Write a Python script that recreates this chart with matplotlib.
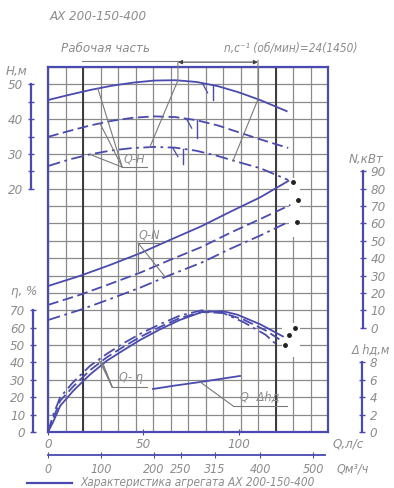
import numpy as np
import matplotlib
matplotlib.use('Agg')
import matplotlib.pyplot as plt
from matplotlib.patches import Rectangle
from matplotlib.lines import Line2D

plt.rcParams['font.family'] = ['DejaVu Sans']
plt.rcParams['font.style'] = 'oblique'
plt.rcParams['font.stretch'] = 'condensed'

BLUE = '#4a4ab0'
GREY = '#8c8c8c'
GRID = '#8a8a8a'

# Q-H, m (Q in m3/h)
q_h1 = [0, 40, 80, 120, 160, 200, 240, 280, 320, 360, 400, 450]
h1 = [45.5, 47.0, 48.4, 49.6, 50.5, 51.1, 51.2, 50.7, 49.5, 47.7, 45.5, 42.3]
q_h2 = [0, 40, 80, 120, 160, 200, 240, 280, 320, 360, 400, 453]
h2 = [34.9, 36.6, 38.2, 39.5, 40.4, 40.8, 40.6, 39.7, 38.2, 36.2, 34.2, 31.7]
q_h3 = [0, 40, 80, 120, 160, 200, 240, 280, 320, 360, 400, 453]
h3 = [26.5, 28.4, 29.9, 31.0, 31.7, 32.0, 31.8, 30.9, 29.4, 27.6, 25.9, 22.5]

# Q-N, kW
q_n1 = [0, 60, 117, 175, 230, 290, 343, 400, 453]
n1 = [24.0, 29.8, 36.1, 43.0, 50.5, 58.5, 66.6, 75.0, 84.4]
q_n2 = [0, 60, 117, 175, 230, 290, 343, 400, 457]
n2 = [13.1, 18.9, 25.2, 31.8, 39.0, 46.5, 54.5, 62.5, 70.6]
q_n3 = [0, 60, 117, 175, 230, 290, 343, 400, 453]
n3 = [4.4, 10.2, 16.5, 23.2, 30.3, 37.5, 45.3, 53.0, 60.8]
n_end_q = [462, 472, 470]
n_end = [83.8, 73.5, 60.8]

# Q-eta, %
q_e1 = [0, 10, 23, 47, 79, 111, 142, 174, 211, 249, 290, 330, 357, 400, 443]
e1 = [0, 6, 15, 23.5, 33, 41, 47, 53, 59, 64.5, 69, 69.5, 67.5, 62, 55]
q_e2 = [0, 10, 23, 47, 79, 111, 142, 174, 211, 249, 290, 330, 370, 410, 438]
e2 = [0, 8, 18, 26, 35.5, 43, 49, 54.7, 60.4, 65.6, 69, 68.5, 64.5, 58.5, 53]
q_e3 = [0, 10, 23, 47, 79, 111, 142, 174, 211, 249, 290, 330, 370, 410, 432]
e3 = [0, 10, 20, 28.5, 38, 45, 51, 56.5, 62, 67, 70, 68.5, 63, 56, 50]
e_end_q = [466, 455, 447]
e_end = [59.8, 55.8, 50.0]

# Q-dh, m
q_d = [198, 240, 287, 330, 362]
dh = [4.95, 5.35, 5.75, 6.15, 6.45]

q_grid_step = 33
q_work = [66, 429]
q_ls_ticks = [0, 50, 100]
q_m3_ticks = [0, 100, 200, 250, 315, 400, 500]

W, HP = 394, 488
fig = plt.figure(figsize=(W / 100, HP / 100), dpi=100)
rect = [48 / W, 56 / HP, 280 / W, 365 / HP]
FS = 9.5


def fx(x, y):
    return x / W, 1 - y / HP


ax = fig.add_axes(rect)
ax.set_xlim(0, 528)
ax.set_ylim(0, 21)
ax.set_xticks(np.arange(0, 529, q_grid_step))
ax.set_yticks(np.arange(0, 22))
ax.tick_params(length=0, labelbottom=False, labelleft=False)
ax.grid(True, color=GRID, lw=0.9)
for s in ax.spines.values():
    s.set_color(BLUE)
    s.set_linewidth(1.6)
for q in q_work:
    ax.axvline(q, color='#3a3a3a', lw=1.4, zorder=2)
# white gaps around curve-end dots
ax.add_patch(Rectangle((455, 11.2), 20, 3.4, fc='white', ec='none', zorder=2.5))
ax.add_patch(Rectangle((441, 4.3), 34, 2.0, fc='white', ec='none', zorder=2.5))

# Q in l/s under the grid
sec = ax.secondary_xaxis('bottom', functions=(lambda q: q / 3.6, lambda v: v * 3.6))
sec.set_xticks(q_ls_ticks)
sec.spines['bottom'].set_visible(False)
sec.tick_params(direction='inout', length=4, color=BLUE, labelcolor=GREY, labelsize=FS, pad=2)

# Q in m3/h
sec2 = ax.secondary_xaxis(-0.063)
sec2.set_xticks(q_m3_ticks)
sec2.spines['bottom'].set_color(BLUE)
sec2.spines['bottom'].set_linewidth(1.3)
sec2.spines['bottom'].set_bounds(0, 523)
sec2.tick_params(direction='inout', length=4, color=BLUE, labelcolor=GREY, labelsize=9, pad=3.5)


def overlay(lo, hi, name):
    a = fig.add_axes(rect, label=name)
    a.set_xlim(0, 528)
    a.set_ylim(lo, hi)
    a.patch.set_visible(False)
    for s in a.spines.values():
        s.set_visible(False)
    a.set_xticks([])
    a.set_yticks([])
    return a


def scale(a, side, pos, lo, hi, major, minor=None):
    sp = a.spines[side]
    sp.set_visible(True)
    sp.set_position(('axes', pos))
    sp.set_bounds(lo, hi)
    sp.set_color(BLUE)
    sp.set_linewidth(1.6)
    a.yaxis.set_ticks_position(side)
    a.set_yticks(major)
    if minor:
        a.set_yticks(minor, minor=True)
    a.tick_params(axis='y', which='both', direction='inout', length=5, width=1,
                  color=BLUE, labelcolor=GREY, labelsize=FS, pad=3)


axH = overlay(-50, 55, 'H')
axN = overlay(-60, 150, 'N')
axE = overlay(0, 210, 'E')
axD = overlay(0, 42, 'D')

scale(axH, 'left', -17 / 280, 20, 50, [20, 30, 40, 50], [25, 35, 45])
scale(axE, 'left', -15 / 280, 0, 70, list(range(0, 71, 10)))
scale(axN, 'right', 315 / 280, 0, 90, list(range(0, 91, 10)))
scale(axD, 'right', 314 / 280, 0, 8, [0, 2, 4, 6, 8])

LW = 1.3
DASH = (0, (6, 2.5))
DDOT = (0, (7, 2.5, 1.5, 2.5))
styles = ['-', DASH, DDOT]

for q, v, ls in zip([q_h1, q_h2, q_h3], [h1, h2, h3], styles):
    axH.plot(q, v, color=BLUE, lw=LW, ls=ls)
for q, v, ls in zip([q_n1, q_n2, q_n3], [n1, n2, n3], styles):
    axN.plot(q, v, color=BLUE, lw=LW, ls=ls)
axN.plot(n_end_q, n_end, 'o', ms=2.5, color='#222')
for q, v, ls in zip([q_e1, q_e2, q_e3], [e1, e2, e3], styles):
    axE.plot(q, v, color=BLUE, lw=LW, ls=ls)
axE.plot(e_end_q, e_end, 'o', ms=2.5, color='#222')
axD.plot(q_d, dh, color=BLUE, lw=LW)

thin = dict(color='#7a7a7a', lw=0.8)


def hi(q, qs, vs):
    return float(np.interp(q, qs, vs))


# working zone boundaries on Q-H
axH.plot([245, 245, 192], [56.6, hi(245, q_h1, h1), hi(192, q_h3, h3)], clip_on=False, **thin)
axH.plot([396, 396, 349], [56.9, hi(396, q_h1, h1), hi(349, q_h3, h3)], clip_on=False, **thin)
axH.plot([64, 245], [56.6, 56.6], clip_on=False, **thin)
axH.annotate('', xy=(245, 56.4), xytext=(396, 56.4), annotation_clip=False,
             arrowprops=dict(arrowstyle='<|-|>', color='#444', lw=0.8,
                             mutation_scale=6, shrinkA=0, shrinkB=0))

# optimum marks
for qm, qs, vs, ln in [(311, q_h1, h1, 4.3), (281, q_h2, h2, 5.0), (255, q_h3, h3, 4.3)]:
    y0 = hi(qm, qs, vs)
    axH.plot([qm, qm], [y0, y0 - ln], color=BLUE, lw=1.0)
    axH.plot([qm - 20, qm - 10], [hi(qm - 20, qs, vs), hi(qm - 10, qs, vs) - 2.5], color=BLUE, lw=0.9)

lab = dict(color=GREY, fontsize=9, ha='center', va='bottom')

# Q-H leaders
anc = (140, 26.2)
for qq, qs, vs in [(94, q_h1, h1), (98, q_h2, h2), (79, q_h3, h3)]:
    axH.plot([anc[0], qq], [anc[1], hi(qq, qs, vs)], **thin)
axH.plot([anc[0], 187], [anc[1], anc[1]], **thin)
axH.text(162, 26.8, 'Q-H', **lab)

# Q-N leaders
anc = (170, 48.7)
axN.plot([anc[0], 170], [anc[1], hi(170, q_n2, n2)], **thin)
axN.plot([anc[0], 221], [anc[1], hi(221, q_n3, n3)], **thin)
axN.plot([anc[0], 212], [anc[1], anc[1]], **thin)
axN.text(191, 49.5, 'Q-N', **lab)

# Q-eta leaders
anc = (121, 25.9)
for qq, qs, vs in [(104, q_e1, e1), (100, q_e2, e2), (96, q_e3, e3)]:
    axE.plot([anc[0], qq], [anc[1], hi(qq, qs, vs)], **thin)
axE.plot([anc[0], 187], [anc[1], anc[1]], **thin)
axE.text(157, 27.5, 'Q- η', **lab)

# Q-dh leader
anc = (349, 3.0)
axD.plot([287, anc[0]], [hi(287, q_d, dh), anc[1]], **thin)
axD.plot([anc[0], 451], [anc[1], anc[1]], **thin)
axD.text(400, 3.3, 'Q- Δhд', **lab)

# texts
txt = dict(color=GREY, fontsize=FS, ha='center', va='center')
fig.text(*fx(98, 16), 'АХ 200-150-400', **txt)
fig.text(*fx(105, 48), 'Рабочая часть', **txt)
fig.text(*fx(291, 48), 'n,c⁻¹ (об/мин)=24(1450)', color=GREY, fontsize=8.5, ha='center', va='center')
fig.text(*fx(17, 72), 'H,м', **txt)
fig.text(*fx(24, 292), 'η, %', **txt)
fig.text(*fx(366, 160), 'N,кВт', **txt)
fig.text(*fx(371, 350), 'Δ hд,м', color=GREY, fontsize=9, ha='center', va='center')
fig.text(*fx(348, 444), 'Q,л/с', **txt)
fig.text(*fx(353, 469), 'Qм³/ч', color=GREY, fontsize=9, ha='center', va='center')

fig.add_artist(Line2D([27 / W, 72 / W], [1 - 483 / HP] * 2, color=BLUE, lw=1.6))
fig.text(*fx(80, 482.5), 'Характеристика агрегата АХ 200-150-400',
         color=GREY, fontsize=8.5, ha='left', va='center')

fig.savefig('out.png', dpi=100)
